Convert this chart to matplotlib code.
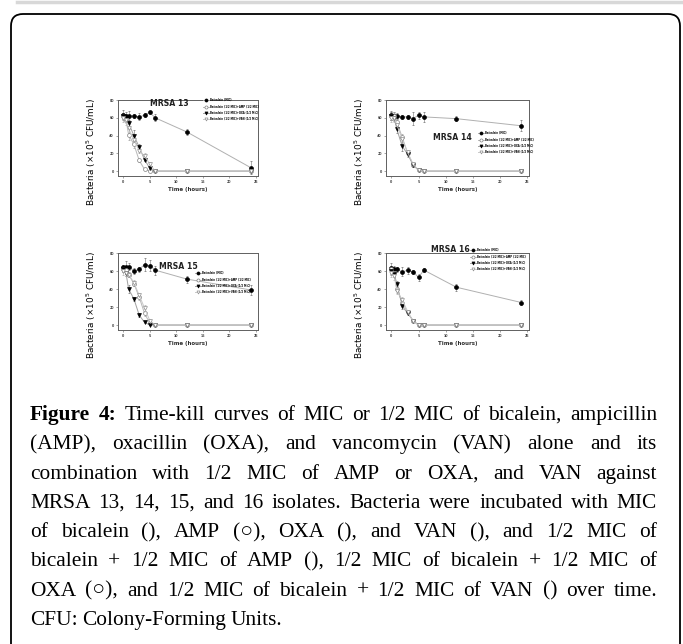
import matplotlib
matplotlib.use("Agg")
from matplotlib import pyplot as plt
from matplotlib.lines import Line2D
from matplotlib.patches import FancyBboxPatch
from matplotlib.transforms import IdentityTransform

# tempo de coleta (horas)
tempo = [0, 0.5, 1, 2, 3, 4, 5, 6, 12, 24]

# MRSA 13
mic_13 = [63, 62, 62, 62, 61, 63, 66, 60, 44, 4]
mic_13_err = [6, 4, 6, 2, 4, 2, 2, 4, 3, 7]
amp_13 = [62, 58, 41, 30, 12, 2, 0, 0, 0, 0]
oxa_13 = [62, 61, 54, 40, 27, 13, 3, 0, 0, 0]
van_13 = [60, 57, 48, 35, 23, 17, 8, 0, 0, 0]
amp_13_err = [3, 4, 6, 4, 2, 1, 0, 0, 0, 0]
oxa_13_err = [3, 3, 4, 6, 3, 2, 1, 0, 0, 0]
van_13_err = [5, 5, 5, 4, 3, 3, 2, 0, 0, 0]

# MRSA 14
mic_14 = [63, 62, 62, 61, 61, 59, 63, 61, 59, 51]
mic_14_err = [5, 4, 3, 2, 2, 7, 4, 6, 3, 6]
amp_14 = [62, 62, 55, 38, 20, 7, 1, 0, 0, 0]
oxa_14 = [62, 60, 47, 28, 19, 7, 1, 0, 0, 0]
van_14 = [60, 60, 52, 36, 21, 8, 1, 0, 0, 0]
amp_14_err = [4, 4, 4, 4, 3, 2, 1, 0, 0, 0]
oxa_14_err = [4, 4, 4, 5, 3, 2, 1, 0, 0, 0]
van_14_err = [5, 5, 4, 4, 3, 2, 1, 0, 0, 0]

# MRSA 15
mic_15 = [64, 65, 65, 60, 62, 67, 66, 61, 51, 39]
mic_15_err = [3, 6, 4, 3, 3, 7, 6, 5, 4, 6]
amp_15 = [62, 61, 56, 46, 31, 13, 2, 0, 0, 0]
oxa_15 = [62, 58, 40, 29, 11, 3, 0, 0, 0, 0]
van_15 = [60, 58, 56, 47, 33, 19, 5, 0, 0, 0]
amp_15_err = [3, 4, 3, 3, 3, 3, 1, 0, 0, 0]
oxa_15_err = [3, 4, 4, 2, 2, 1, 0, 0, 0, 0]
van_15_err = [4, 4, 3, 3, 3, 3, 2, 0, 0, 0]

# MRSA 16
mic_16 = [63, 62, 62, 59, 61, 59, 53, 61, 42, 25]
mic_16_err = [6, 4, 3, 5, 4, 2, 4, 2, 4, 3]
amp_16 = [62, 58, 40, 25, 14, 5, 0, 0, 0, 0]
oxa_16 = [60, 57, 46, 21, 13, 5, 0, 0, 0, 0]
van_16 = [58, 55, 38, 28, 15, 4, 0, 0, 0, 0]
amp_16_err = [4, 4, 4, 3, 2, 1, 0, 0, 0, 0]
oxa_16_err = [4, 4, 3, 3, 2, 1, 0, 0, 0, 0]
van_16_err = [5, 5, 4, 3, 2, 1, 0, 0, 0, 0]

legendas = ["Baicalein (MIC)",
            "Baicalein (1/2 MIC)+AMP (1/2 MIC)",
            "Baicalein (1/2 MIC)+OXA (1/2 MIC)",
            "Baicalein (1/2 MIC)+VAN (1/2 MIC)"]

legenda_texto = [
    "Figure 4: Time-kill curves of MIC or 1/2 MIC of bicalein, ampicillin",
    "(AMP), oxacillin (OXA), and vancomycin (VAN) alone and its",
    "combination with 1/2 MIC of AMP or OXA, and VAN against",
    "MRSA 13, 14, 15, and 16 isolates. Bacteria were incubated with MIC",
    "of bicalein (), AMP (\u25cb), OXA (), and VAN (), and 1/2 MIC of",
    "bicalein + 1/2 MIC of AMP (), 1/2 MIC of bicalein + 1/2 MIC of",
    "OXA (\u25cb), and 1/2 MIC of bicalein + 1/2 MIC of VAN () over time.",
    "CFU: Colony-Forming Units.",
]

W, H = 683, 644
fig = plt.figure(figsize=(W / 100, H / 100), dpi=100)

# moldura da pagina
fig.add_artist(Line2D([17, 683], [H - 2, H - 2], transform=IdentityTransform(),
                      color="#d8d8d8", lw=2.5))
fig.add_artist(FancyBboxPatch((11, -40), 669, H - 14 + 40, transform=IdentityTransform(),
                              boxstyle="round,pad=0,rounding_size=12",
                              fc="none", ec="black", lw=1.3))

# estilos das series
estilos = [
    dict(marker="o", mfc="black", mec="black", color="#b0b0b0", ecolor="#707070"),
    dict(marker="o", mfc="white", mec="#808080", color="#b8b8b8", ecolor="#a0a0a0"),
    dict(marker="v", mfc="black", mec="black", color="#a0a0a0", ecolor="#707070"),
    dict(marker="v", mfc="white", mec="#909090", color="#c8c8c8", ecolor="#b0b0b0"),
]

paineis = [
    ((118, 100, 258, 176), [mic_13, amp_13, oxa_13, van_13],
     [mic_13_err, amp_13_err, oxa_13_err, van_13_err], "MRSA 13", (169, 103), (203, 98)),
    ((386, 100, 529, 176), [mic_14, amp_14, oxa_14, van_14],
     [mic_14_err, amp_14_err, oxa_14_err, van_14_err], "MRSA 14", (452, 137), (478, 131)),
    ((118, 253, 258, 330), [mic_15, amp_15, oxa_15, van_15],
     [mic_15_err, amp_15_err, oxa_15_err, van_15_err], "MRSA 15", (178, 266), (195, 271)),
    ((386, 253, 529, 330), [mic_16, amp_16, oxa_16, van_16],
     [mic_16_err, amp_16_err, oxa_16_err, van_16_err], "MRSA 16", (450, 250), (470, 248)),
]

for (x0, y0, x1, y1), series, erros, nome, pos_nome, pos_leg in paineis:
    ax = fig.add_axes([x0 / W, 1 - y1 / H, (x1 - x0) / W, (y1 - y0) / H])
    handles = []
    for valores, err, st in zip(series, erros, estilos):
        ax.errorbar(tempo, valores, yerr=err, marker=st["marker"], ms=2.8,
                    mfc=st["mfc"], mec=st["mec"], mew=0.5, color=st["color"],
                    lw=0.7, ecolor=st["ecolor"], elinewidth=0.4, capsize=0.9,
                    capthick=0.4, zorder=3)
        handles.append(Line2D([], [], marker=st["marker"], ms=2.2, mfc=st["mfc"],
                              mec=st["mec"], mew=0.5, color=st["color"], lw=0.7))
    ax.set_xlim(-1, 25.4)
    ax.set_ylim(-5.5, 80)
    ax.set_xticks([0, 5, 10, 15, 20, 25])
    ax.set_yticks([0, 20, 40, 60, 80])
    ax.tick_params(length=1.5, width=0.4, color="#606060", labelsize=2.3,
                   labelcolor="#404040", pad=1.5)
    for lab in ax.get_xticklabels() + ax.get_yticklabels():
        lab.set_fontweight("bold")
    for sp in ax.spines.values():
        sp.set_color("#606060")
        sp.set_linewidth(0.7)
    ax.set_xlabel("Time (hours)", fontsize=4, fontweight="bold", color="#303030", labelpad=2)
    ax.set_ylabel("Bacteria (\u00d710$^5$ CFU/mL)", fontsize=6.4, color="black",
                  family="Liberation Sans Narrow")
    ax.yaxis.set_label_coords(-20 / (x1 - x0), 0.32)
    fig.text(pos_nome[0] / W, 1 - pos_nome[1] / H, nome, fontsize=5.6, fontweight="bold",
             color="#202020", ha="center", va="center")
    fig.legend(handles, legendas, loc="upper left",
               bbox_to_anchor=(pos_leg[0] / W, 1 - pos_leg[1] / H),
               frameon=False, prop=dict(weight="bold", size=1.85),
               labelspacing=0.95, handlelength=2.2, handletextpad=0.5, borderpad=0,
               borderaxespad=0, labelcolor="black")

# legenda da figura, texto justificado
renderer = fig.canvas.get_renderer()
x_esq, x_dir = 30, 657
y_base = 420
passo = 29.3
for i, linha in enumerate(legenda_texto):
    palavras = linha.split(" ")
    textos = []
    for j, p in enumerate(palavras):
        negrito = i == 0 and j < 2
        t = fig.text(0, 1 - (y_base + i * passo) / H, p, fontsize=15.4,
                     family=["Liberation Serif", "DejaVu Serif"],
                     fontweight="bold" if negrito else "normal", va="baseline", color="black")
        textos.append(t)
    larguras = [t.get_window_extent(renderer).width for t in textos]
    if i < len(legenda_texto) - 1:
        espaco = (x_dir - x_esq - sum(larguras)) / (len(textos) - 1)
    else:
        espaco = 4.5
    x = x_esq
    for t, w in zip(textos, larguras):
        t.set_x(x / W)
        x += w + espaco

fig.savefig("out.png", dpi=100)
